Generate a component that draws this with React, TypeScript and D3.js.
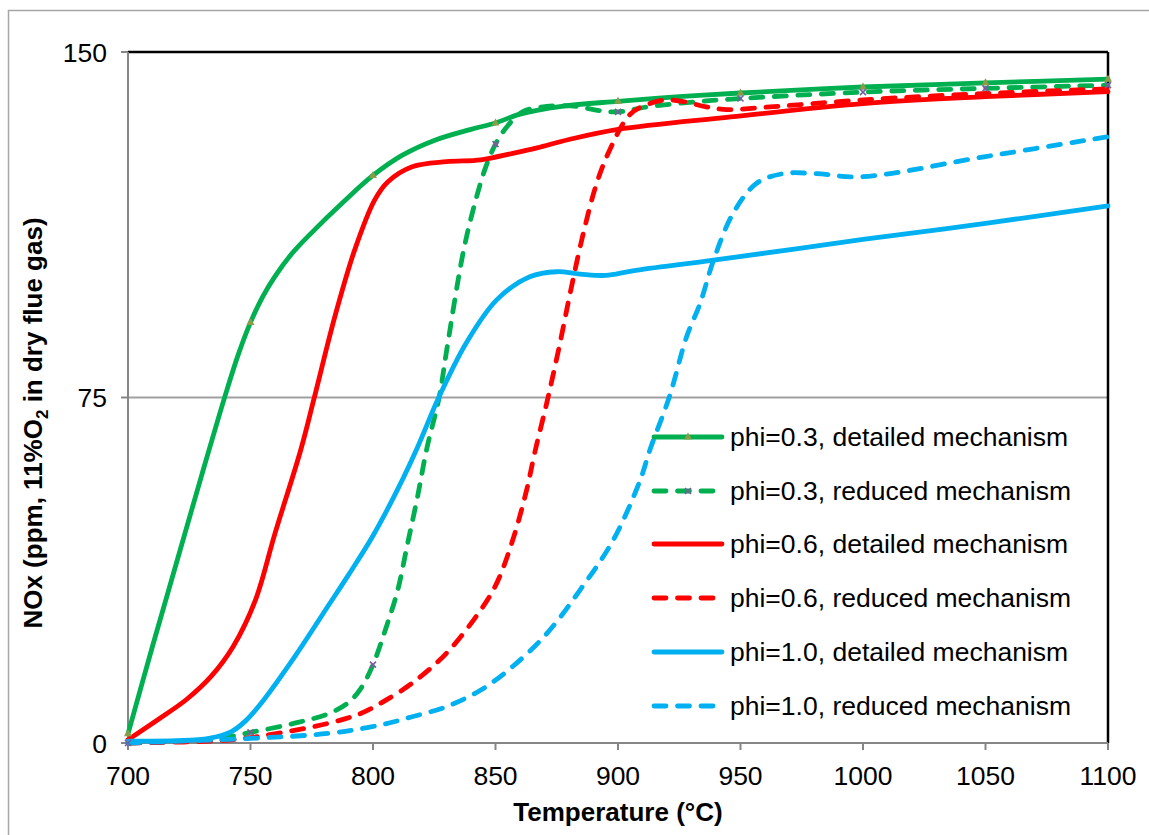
import React from "react";
import * as d3 from "d3";

type Pt = [number, number];

// phi=0.3 detailed mechanism (Temperature °C, NOx ppm)
const phi03Detailed: Pt[] = [
  [700, 2], [710, 21], [720, 39.5], [730, 58], [740, 76], [745, 84.3], [750, 91.3],
  [755, 96.9], [760, 101.3], [767, 106.3], [775, 110.8], [788, 117.5], [800, 123.2],
  [812, 127.6], [825, 130.8], [840, 133.2], [850, 134.6], [860, 136.5], [877, 138.2],
  [900, 139.3], [925, 140.3], [950, 141.1], [1000, 142.4], [1050, 143.3], [1100, 144.1],
];
// phi=0.3 reduced mechanism
const phi03Reduced: Pt[] = [
  [700, 0], [720, 0.3], [734, 0.7], [750, 2.3], [768, 4.3], [782, 6.4], [790, 8.8],
  [795, 11.8], [800, 17], [805, 24.5], [810, 33], [814, 43], [818, 53], [822, 64],
  [827, 75], [830, 85], [837, 107], [842, 118], [846, 125], [850, 130], [855, 134],
  [861, 137], [871, 138.2], [883, 138.2], [891, 137.4], [900, 137], [912, 138.1],
  [932, 139.2], [950, 139.9], [1000, 141.3], [1050, 142.1], [1100, 142.8],
];
// phi=0.6 detailed mechanism
const phi06Detailed: Pt[] = [
  [700, 0.7], [712, 5], [724, 9.5], [734, 14.5], [743, 21], [752, 31], [760, 45.5],
  [770.5, 63.6], [776, 74.9], [784.4, 92.5], [792.5, 107], [800.7, 117.9], [806, 121.8],
  [816, 125.1], [830, 126.2], [844, 126.6], [857, 128], [867, 129.2], [880, 131],
  [900, 133.2], [946, 135.9], [1000, 138.8], [1050, 140.3], [1100, 141.4],
];
// phi=0.6 reduced mechanism
const phi06Reduced: Pt[] = [
  [700, 0], [741, 0.65], [761, 2.1], [782, 4.3], [795, 6.4], [803, 8.6], [816, 13],
  [830, 19.5], [844, 28.9], [850.5, 34.7], [857, 44], [862.7, 54.9], [866, 63],
  [871, 74], [876, 86], [881, 99], [886, 111], [891, 121], [896, 128], [905, 136.5],
  [913, 138.8], [920, 139.6], [927, 139.2], [936, 138.1], [944.5, 137.5],
  [960, 138], [1000, 139.6], [1050, 141], [1100, 142],
];
// phi=1.0 detailed mechanism
const phi10Detailed: Pt[] = [
  [700, 0.4], [720, 0.5], [733, 1], [742, 2.4], [748, 4.8], [754, 8.4], [768, 18.7],
  [782, 30], [790, 36.5], [800, 45], [810, 55], [818, 64], [827, 75.2], [838, 86.8],
  [850.5, 96.2], [864, 101.2], [875, 102.3], [884.5, 101.8], [895, 101.5], [906, 102.5],
  [939, 104.8], [1000, 109.3], [1050, 112.8], [1100, 116.6],
];
// phi=1.0 reduced mechanism
const phi10Reduced: Pt[] = [
  [700, 0], [754, 1.1], [782, 2.1], [803, 3.9], [816, 5.7], [830, 7.9], [844, 11.5],
  [857, 16.6], [871, 23.8], [884.5, 33.2], [898, 44], [909, 57], [913, 63.6],
  [921, 75.2], [928, 88.2], [933.5, 95.4], [939, 104.8], [947, 115], [956.6, 121.5],
  [967.5, 123.6], [981, 123.6], [999, 122.9], [1050, 127.3], [1100, 131.6],
];

const seriesNames = [
  "phi=0.3, detailed mechanism",
  "phi=0.3, reduced mechanism",
  "phi=0.6, detailed mechanism",
  "phi=0.6, reduced mechanism",
  "phi=1.0, detailed mechanism",
  "phi=1.0, reduced mechanism",
];
const seriesData = [phi03Detailed, phi03Reduced, phi06Detailed, phi06Reduced, phi10Detailed, phi10Reduced];
const seriesColors = ["#00B050", "#00B050", "#FF0000", "#FF0000", "#00B0F0", "#00B0F0"];
const seriesDashed = [false, true, false, true, false, true];

const xTicks = [700, 750, 800, 850, 900, 950, 1000, 1050, 1100];
const yTicks = [0, 75, 150];

const FONT = "'Liberation Sans', Arial, sans-serif";

export default function App() {
  const W = 1149, H = 835;
  const left = 128, right = 1108, top = 52, bottom = 743;
  const x = d3.scaleLinear().domain([700, 1100]).range([left, right]);
  const y = d3.scaleLinear().domain([0, 150]).range([bottom, top]);
  const line = d3.line<Pt>().x((d) => x(d[0])).y((d) => y(d[1])).curve(d3.curveCatmullRom.alpha(0.5));
  const dash = "12 11.5";
  const lw = 4.8;

  const triPts = phi03Detailed.filter((d) => d[0] % 50 === 0);
  const xPts = phi03Reduced.filter((d) => d[0] % 50 === 0);
  const tri = (cx: number, cy: number) => `M${cx},${cy - 4.5}L${cx + 4},${cy + 2.5}L${cx - 4},${cy + 2.5}Z`;
  const cross = (cx: number, cy: number) =>
    `M${cx - 3},${cy - 3}L${cx + 3},${cy + 3}M${cx - 3},${cy + 3}L${cx + 3},${cy - 3}`;
  const triColor = "#8A9C48";
  const crossColor = "#7B5C9E";

  const legendY = [437, 491, 544, 598, 652, 706];

  return (
    <svg width={W} height={H} style={{ position: "absolute", left: 0, top: 0, background: "#fff" }}
      fontFamily={FONT}>
      <rect x={0} y={0} width={W} height={H} fill="#fff" />
      <rect x={8.5} y={10.5} width={1160} height={840} fill="none" stroke="#a6a6a6" strokeWidth={1.5} />
      {/* gridline at 75 */}
      <line x1={left} x2={right} y1={y(75)} y2={y(75)} stroke="#a0a0a0" strokeWidth={2} />
      {/* frame */}
      <line x1={left} x2={right} y1={top} y2={top} stroke="#000" strokeWidth={2.5} />
      <line x1={right} x2={right} y1={top} y2={bottom} stroke="#000" strokeWidth={2.5} />
      <line x1={left} x2={left} y1={top} y2={bottom + 7} stroke="#868686" strokeWidth={2} />
      <line x1={left - 7} x2={right} y1={bottom} y2={bottom} stroke="#868686" strokeWidth={2} />
      {yTicks.map((t) => (
        <g key={"yt" + t}>
          <line x1={left - 7} x2={left} y1={y(t)} y2={y(t)} stroke="#868686" strokeWidth={2} />
          <text x={107} y={y(t) + 9.5} textAnchor="end" fontSize={26.5} fill="#000">{t}</text>
        </g>
      ))}
      {xTicks.map((t) => (
        <g key={"xt" + t}>
          <line x1={x(t)} x2={x(t)} y1={bottom} y2={bottom + 7} stroke="#868686" strokeWidth={2} />
          <text x={x(t)} y={785} textAnchor="middle" fontSize={26.5} fill="#000">{t}</text>
        </g>
      ))}
      {seriesData.map((d, i) => (
        <path key={"s" + i} d={line(d) || ""} fill="none" stroke={seriesColors[i]} strokeWidth={lw}
          strokeDasharray={seriesDashed[i] ? dash : undefined} strokeLinecap="round" strokeLinejoin="round" />
      ))}
      {triPts.map((d, i) => (
        <path key={"tri" + i} d={tri(x(d[0]), y(d[1]))} fill={triColor} />
      ))}
      {xPts.map((d, i) => (
        <path key={"x" + i} d={cross(x(d[0]), y(d[1]))} stroke={crossColor} strokeWidth={1.6} fill="none" />
      ))}
      {/* legend */}
      {seriesNames.map((name, i) => (
        <g key={"lg" + i}>
          <line x1={654} x2={seriesDashed[i] ? 713 : 722} y1={legendY[i]} y2={legendY[i]}
            stroke={seriesColors[i]} strokeWidth={lw} strokeLinecap="round"
            strokeDasharray={seriesDashed[i] ? dash : undefined} />
          {i === 0 && <path d={tri(688, legendY[i])} fill={triColor} />}
          {i === 1 && <path d={cross(688, legendY[i])} stroke={crossColor} strokeWidth={1.6} fill="none" />}
          <text x={730} y={legendY[i] + 9} fontSize={26.5} fill="#000">{name}</text>
        </g>
      ))}
      {/* axis titles */}
      <text x={(left + right) / 2} y={821} textAnchor="middle" fontSize={26} fontWeight="bold" fill="#000">
        Temperature (°C)
      </text>
      <text transform="translate(42,423) rotate(-90)" textAnchor="middle" fontSize={26} fontWeight="bold" fill="#000">
        NOx (ppm, 11%O<tspan fontSize={17} dy={6}>2</tspan><tspan dy={-6}> in dry flue gas)</tspan>
      </text>
    </svg>
  );
}
